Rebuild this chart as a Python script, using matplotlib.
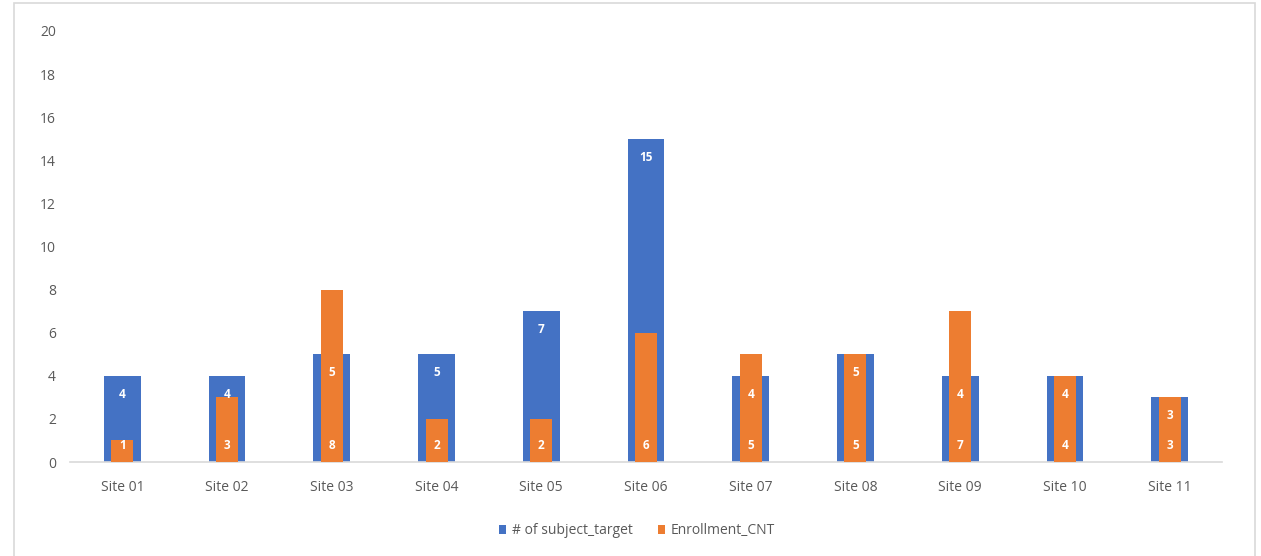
import matplotlib
matplotlib.use("Agg")
import matplotlib.pyplot as plt
from matplotlib.patches import Rectangle

sites = ["Site 01", "Site 02", "Site 03", "Site 04", "Site 05", "Site 06",
         "Site 07", "Site 08", "Site 09", "Site 10", "Site 11"]
subject_target = [4, 4, 5, 5, 7, 15, 4, 5, 4, 4, 3]
enrollment_cnt = [1, 3, 8, 2, 2, 6, 5, 5, 7, 4, 3]
yticks = [0, 2, 4, 6, 8, 10, 12, 14, 16, 18, 20]

BLUE = "#4472C4"
ORANGE = "#ED7D31"
GRAY = "#595959"

plt.rcParams['font.family'] = ['Open Sans', 'DejaVu Sans']

fig = plt.figure(figsize=(12.61, 5.56), dpi=100)
fig.patches.append(Rectangle((14/1261, -0.01), (1255-14)/1261, (556-3)/556 + 0.01,
                             transform=fig.transFigure, fill=False,
                             edgecolor="#D9D9D9", linewidth=1.2))
ax = fig.add_axes([70/1261, 94/556, (1222-70)/1261, (525-94)/556])

x = list(range(len(sites)))
b1 = ax.bar(x, subject_target, width=0.35, color=BLUE, label="# of subject_target", zorder=2)
b2 = ax.bar(x, enrollment_cnt, width=0.21, color=ORANGE, label="Enrollment_CNT", zorder=3)
for xi, v in zip(x, subject_target):
    ax.text(xi, v - 0.85, str(v), ha="center", va="center", color="white",
            fontsize=8.5, fontweight="bold", zorder=5)
for xi, v in zip(x, enrollment_cnt):
    ax.text(xi, 0.75, str(v), ha="center", va="center", color="white",
            fontsize=8.5, fontweight="bold", zorder=5)

ax.set_xlim(-0.5, len(sites) - 0.5)
ax.set_ylim(0, 20)
ax.set_yticks(yticks)
ax.set_xticks(x)
ax.set_xticklabels(sites)
for s in ["top", "right", "left"]:
    ax.spines[s].set_visible(False)
ax.spines["bottom"].set_color("#D9D9D9")
ax.spines["bottom"].set_linewidth(1.2)
ax.tick_params(axis="both", length=0, labelsize=10, labelcolor=GRAY)
ax.tick_params(axis="y", pad=10)
ax.tick_params(axis="x", pad=13)

fig.legend(handles=[b1, b2], loc="center", bbox_to_anchor=(637/1261, 1 - 531/556),
           ncol=2, frameon=False, fontsize=10, labelcolor=GRAY,
           handlelength=0.55, handleheight=0.55, handletextpad=0.4, columnspacing=1.8)

fig.savefig("out.png", dpi=100)
